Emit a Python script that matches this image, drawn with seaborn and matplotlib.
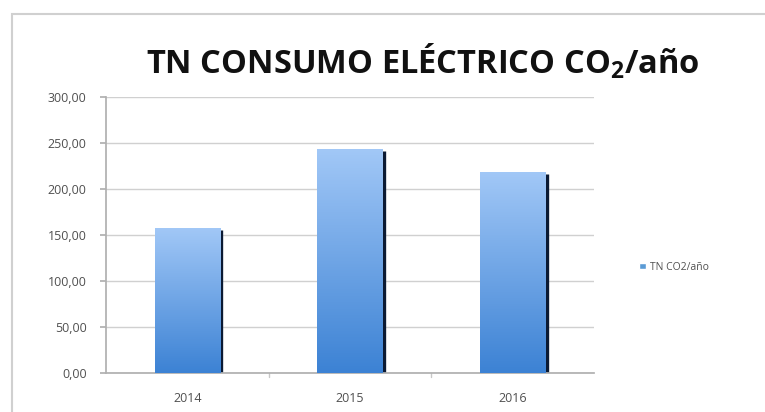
import matplotlib
matplotlib.use("Agg")
import matplotlib.pyplot as plt
import seaborn as sns
import numpy as np
import pandas as pd
from matplotlib.patches import Rectangle
from matplotlib.ticker import FuncFormatter, MultipleLocator
from matplotlib.colors import LinearSegmentedColormap

years = ["2014", "2015", "2016"]
values = [158.0, 244.0, 219.0]
series_name = "TN CO2/año"
title = "TN CONSUMO ELÉCTRICO CO$_\\mathregular{2}$/año"

sns.set_theme(style="white")
plt.rcParams['font.family'] = ['Open Sans', 'DejaVu Sans']

df = pd.DataFrame({"year": years, "value": values})

fig = plt.figure(figsize=(7.65, 4.12), dpi=100)
ax = fig.add_axes([106/765, 1-373/412, (594-106)/765, (373-97)/412])

sns.barplot(data=df, x="year", y="value", ax=ax, color="#5b9bd5", width=0.4,
            saturation=1, zorder=3)

ax.set_ylim(0, 300)
ax.yaxis.set_major_locator(MultipleLocator(50))
ax.yaxis.set_major_formatter(FuncFormatter(lambda v, p: f"{v:.2f}".replace(".", ",")))
ax.grid(axis="y", color="#d0d0d0", linewidth=1.0, zorder=0)
for s in ["top", "right"]:
    ax.spines[s].set_visible(False)
ax.spines["left"].set_color("#b0b0b0")
ax.spines["bottom"].set_color("#b0b0b0")
ax.set_xlabel("")
ax.set_ylabel("")
ax.tick_params(axis="y", labelsize=9, colors="#505050", pad=10, length=4, color="#b0b0b0", left=True)
ax.tick_params(axis="x", labelsize=9, colors="#505050", pad=14, length=0)

# gradient fill + dark shadow edge
grad = np.linspace(0, 1, 256).reshape(-1, 1)
cmap = LinearSegmentedColormap.from_list("g", ["#3c82d4", "#a2c8f7"])
for p in list(ax.patches):
    x0, y0 = p.get_x(), p.get_y()
    w, h = p.get_width(), p.get_height()
    p.set_facecolor("none")
    p.set_edgecolor("none")
    im = ax.imshow(grad, extent=[x0, x0 + w, y0, y0 + h], origin="lower",
                   cmap=cmap, aspect="auto", zorder=3)
    im.set_clip_path(p)
    ax.plot([x0 + w + 0.008, x0 + w + 0.008], [y0, y0 + h - 3], color="#0b1a33",
            linewidth=2.4, zorder=2, solid_capstyle="butt")
ax.set_xlim(-0.5, 2.5)
ax.set_ylim(0, 300)

for b in [0.5, 1.5]:
    ax.plot([b, b], [0, -4], color="#c8c8c8", linewidth=1, clip_on=False)

fig.text(423/765, 1-61/412, title, ha="center", va="center", fontsize=23.5,
         fontweight="bold", color="#111111")

ax.legend(handles=[Rectangle((0, 0), 1, 1, facecolor="#5b9bd5")], labels=[series_name],
          loc="center left", bbox_to_anchor=(630/765, 1-267/412),
          bbox_transform=fig.transFigure, frameon=False, fontsize=7.5,
          handlelength=0.6, handleheight=0.6, handletextpad=0.4, labelcolor="#505050")

fig.patches.append(Rectangle((12/765, -0.1), 1.2, 1.1 - 14/412, transform=fig.transFigure,
                             fill=False, edgecolor="#d0d0d0", linewidth=1.5))

fig.savefig("out.png", dpi=100)
